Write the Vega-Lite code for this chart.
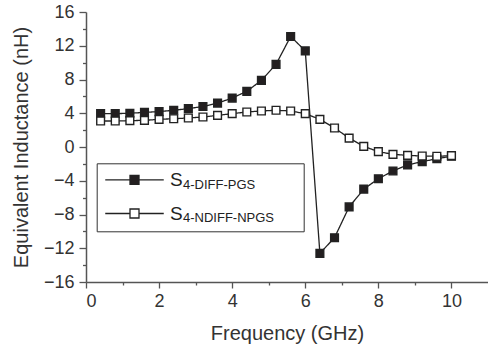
{
  "$schema": "https://vega.github.io/schema/vega-lite/v6.json",
  "autosize": "none",
  "width": 402,
  "height": 270,
  "padding": {"left": 86, "top": 12, "right": 0, "bottom": 70},
  "background": "white",
  "config": {
    "view": {"stroke": null},
    "font": "Liberation Sans",
    "axis": {"grid": false, "domainColor": "#555", "domainWidth": 1.5, "tickColor": "#555", "tickWidth": 1.3, "labelColor": "#333", "titleColor": "#333", "labelFont": "Liberation Sans", "titleFont": "Liberation Sans", "titleFontWeight": "normal"}
  },
  "data": {"values": [
    {"f": 0.4, "L": 3.95, "series": "S4-DIFF-PGS"},
    {"f": 0.8, "L": 3.95, "series": "S4-DIFF-PGS"},
    {"f": 1.2, "L": 4.0, "series": "S4-DIFF-PGS"},
    {"f": 1.6, "L": 4.1, "series": "S4-DIFF-PGS"},
    {"f": 2.0, "L": 4.2, "series": "S4-DIFF-PGS"},
    {"f": 2.4, "L": 4.35, "series": "S4-DIFF-PGS"},
    {"f": 2.8, "L": 4.55, "series": "S4-DIFF-PGS"},
    {"f": 3.2, "L": 4.8, "series": "S4-DIFF-PGS"},
    {"f": 3.6, "L": 5.2, "series": "S4-DIFF-PGS"},
    {"f": 4.0, "L": 5.8, "series": "S4-DIFF-PGS"},
    {"f": 4.4, "L": 6.6, "series": "S4-DIFF-PGS"},
    {"f": 4.8, "L": 7.9, "series": "S4-DIFF-PGS"},
    {"f": 5.2, "L": 9.8, "series": "S4-DIFF-PGS"},
    {"f": 5.6, "L": 13.1, "series": "S4-DIFF-PGS"},
    {"f": 6.0, "L": 11.4, "series": "S4-DIFF-PGS"},
    {"f": 6.4, "L": -12.6, "series": "S4-DIFF-PGS"},
    {"f": 6.8, "L": -10.75, "series": "S4-DIFF-PGS"},
    {"f": 7.2, "L": -7.1, "series": "S4-DIFF-PGS"},
    {"f": 7.6, "L": -5.0, "series": "S4-DIFF-PGS"},
    {"f": 8.0, "L": -3.76, "series": "S4-DIFF-PGS"},
    {"f": 8.4, "L": -2.84, "series": "S4-DIFF-PGS"},
    {"f": 8.8, "L": -2.12, "series": "S4-DIFF-PGS"},
    {"f": 9.2, "L": -1.74, "series": "S4-DIFF-PGS"},
    {"f": 9.6, "L": -1.39, "series": "S4-DIFF-PGS"},
    {"f": 10.0, "L": -1.1, "series": "S4-DIFF-PGS"},
    {"f": 0.4, "L": 3.08, "series": "S4-NDIFF-NPGS"},
    {"f": 0.8, "L": 3.08, "series": "S4-NDIFF-NPGS"},
    {"f": 1.2, "L": 3.12, "series": "S4-NDIFF-NPGS"},
    {"f": 1.6, "L": 3.16, "series": "S4-NDIFF-NPGS"},
    {"f": 2.0, "L": 3.28, "series": "S4-NDIFF-NPGS"},
    {"f": 2.4, "L": 3.35, "series": "S4-NDIFF-NPGS"},
    {"f": 2.8, "L": 3.44, "series": "S4-NDIFF-NPGS"},
    {"f": 3.2, "L": 3.55, "series": "S4-NDIFF-NPGS"},
    {"f": 3.6, "L": 3.75, "series": "S4-NDIFF-NPGS"},
    {"f": 4.0, "L": 3.95, "series": "S4-NDIFF-NPGS"},
    {"f": 4.4, "L": 4.15, "series": "S4-NDIFF-NPGS"},
    {"f": 4.8, "L": 4.27, "series": "S4-NDIFF-NPGS"},
    {"f": 5.2, "L": 4.35, "series": "S4-NDIFF-NPGS"},
    {"f": 5.6, "L": 4.27, "series": "S4-NDIFF-NPGS"},
    {"f": 6.0, "L": 3.95, "series": "S4-NDIFF-NPGS"},
    {"f": 6.4, "L": 3.28, "series": "S4-NDIFF-NPGS"},
    {"f": 6.8, "L": 2.25, "series": "S4-NDIFF-NPGS"},
    {"f": 7.2, "L": 1.06, "series": "S4-NDIFF-NPGS"},
    {"f": 7.6, "L": 0.08, "series": "S4-NDIFF-NPGS"},
    {"f": 8.0, "L": -0.55, "series": "S4-NDIFF-NPGS"},
    {"f": 8.4, "L": -0.87, "series": "S4-NDIFF-NPGS"},
    {"f": 8.8, "L": -0.99, "series": "S4-NDIFF-NPGS"},
    {"f": 9.2, "L": -1.07, "series": "S4-NDIFF-NPGS"},
    {"f": 9.6, "L": -1.1, "series": "S4-NDIFF-NPGS"},
    {"f": 10.0, "L": -1.03, "series": "S4-NDIFF-NPGS"}
  ]},
  "resolve": {"axis": {"x": "independent", "y": "independent"}},
  "layer": [
    {
      "mark": {"type": "line", "color": "#222", "strokeWidth": 1.3},
      "encoding": {
        "x": {"field": "f", "type": "quantitative", "scale": {"domain": [0, 11], "nice": false},
          "axis": {"values": [0, 2, 4, 6, 8, 10], "tickSize": 6, "labelPadding": 4, "labelFontSize": 18, "title": "Frequency (GHz)", "titleFontSize": 20, "titlePadding": 13, "orient": "bottom"}},
        "y": {"field": "L", "type": "quantitative", "scale": {"domain": [-16, 16], "nice": false},
          "axis": {"values": [-16, -12, -8, -4, 0, 4, 8, 12, 16], "tickSize": 7, "labelPadding": 5, "labelFontSize": 18, "title": "Equivalent Inductance (nH)", "titleFontSize": 20, "titlePadding": 12, "orient": "left"}},
        "strokeDash": {"field": "series", "type": "nominal",
          "scale": {"domain": ["S4-DIFF-PGS", "S4-NDIFF-NPGS"], "range": [[1, 0], [1, 0]]},
          "legend": {"orient": "none", "legendX": 84, "legendY": 166, "title": null, "labelExpr": "substring(datum.label, 1)", "labelFont": "Liberation Sans", "labelFontSize": 13, "labelColor": "#222", "symbolOpacity": 0, "symbolSize": 1, "symbolOffset": 0, "labelOffset": 0, "padding": 0, "rowPadding": 19.7}}
      }
    },
    {
      "mark": {"type": "point", "shape": "square", "filled": true, "size": 60, "stroke": "#222", "strokeWidth": 1.4, "opacity": 1},
      "encoding": {
        "x": {"field": "f", "type": "quantitative",
          "axis": {"values": [1, 3, 5, 7, 9], "tickSize": 3, "labels": false, "domain": false, "title": null, "orient": "bottom"}},
        "y": {"field": "L", "type": "quantitative",
          "axis": {"values": [-14, -10, -6, -2, 2, 6, 10, 14], "tickSize": 3.5, "labels": false, "domain": false, "title": null, "orient": "left"}},
        "fill": {"field": "series", "type": "nominal",
          "scale": {"range": ["#231f20", "#ffffff"]},
          "legend": {"orient": "none", "legendX": 10.7, "legendY": 151.3, "title": null,
            "symbolType": "M-6.5,0H-1M1,0H6.5M-1,-1H1V1H-1ZM35.3,0", "symbolSize": 81, "symbolStrokeColor": "#222", "symbolStrokeWidth": 1.3,
            "labelExpr": "'S'", "labelFont": "Liberation Sans", "labelFontSize": 19, "labelColor": "#222",
            "symbolOffset": 21.3, "labelOffset": 26, "padding": 7, "rowPadding": 13.7, "strokeColor": "#333", "cornerRadius": 0}}
      }
    }
  ]
}
